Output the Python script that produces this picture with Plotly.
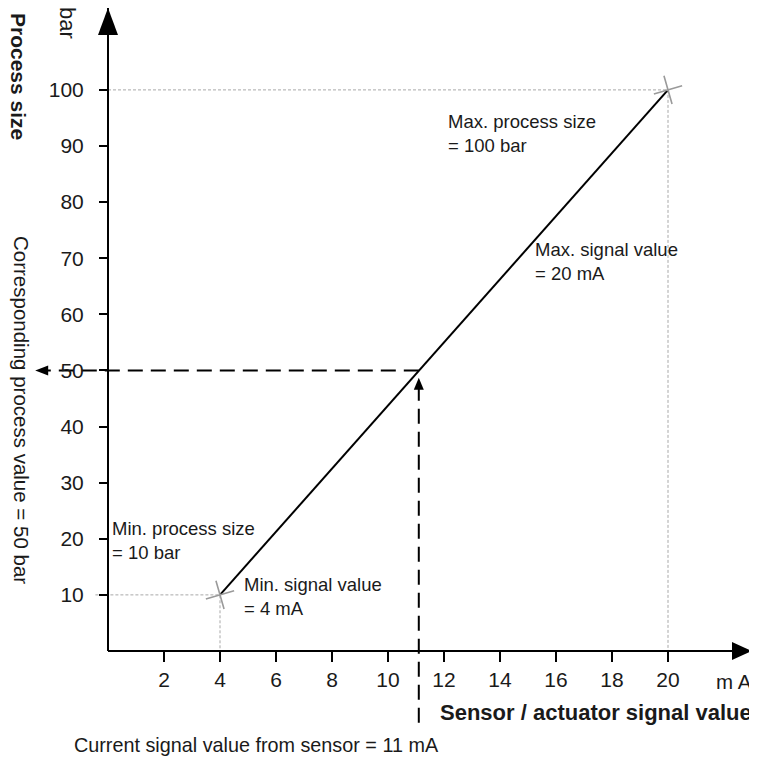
import plotly.graph_objects as go

# ---- data ----
signal_ma = [4, 20]            # min / max signal value (mA)
process_bar = [10, 100]        # min / max process size (bar)
current_signal = 11.1          # current signal from sensor (mA) as drawn
current_process = 50           # corresponding process value (bar)
x_ticks = [2, 4, 6, 8, 10, 12, 14, 16, 18, 20]
y_ticks = [10, 20, 30, 40, 50, 60, 70, 80, 90, 100]
x_axis_end = 23.0
y_axis_end = 114.6
x_arrow_left = -2.6            # tip of the left-pointing arrow at 50 bar
y_arrow_up = 48.7              # tip of the upward arrow at 11 mA
y_dash_bottom = -12.8          # lower end of the vertical dashed line

OFF = 8                        # page body margin of the browser
W, H = 757 - OFF, 760 - OFF
PX_X = 28.0      # px per mA
PX_Y = 5.611     # px per bar
X0_PX, Y0_PX = 108 - OFF, 651 - OFF
xr = [-X0_PX / PX_X, (W - X0_PX) / PX_X]
yr = [(Y0_PX - H) / PX_Y, Y0_PX / PX_Y]

FONT = "Liberation Sans, Arial, sans-serif"
TXT = "#1a1a1a"
GREY = "#a8a8a8"

fig = go.Figure()

# gray dotted guides
fig.add_trace(go.Scatter(x=[0, signal_ma[1], signal_ma[1]], y=[process_bar[1], process_bar[1], 0],
                         mode="lines", line=dict(color=GREY, width=1, dash="3px,2px"),
                         hoverinfo="skip", showlegend=False))
fig.add_trace(go.Scatter(x=[-0.45, signal_ma[0], signal_ma[0]], y=[process_bar[0], process_bar[0], 0],
                         mode="lines", line=dict(color=GREY, width=1, dash="3px,2px"),
                         hoverinfo="skip", showlegend=False))

# axes lines
fig.add_trace(go.Scatter(x=[0, x_axis_end], y=[0, 0], mode="lines",
                         line=dict(color="black", width=2), hoverinfo="skip", showlegend=False))
fig.add_trace(go.Scatter(x=[0, 0], y=[0, y_axis_end], mode="lines",
                         line=dict(color="black", width=2), hoverinfo="skip", showlegend=False))

# characteristic line
fig.add_trace(go.Scatter(x=signal_ma, y=process_bar, mode="lines",
                         line=dict(color="black", width=2), hoverinfo="skip", showlegend=False))

# gray crosses at min/max
fig.add_trace(go.Scatter(x=signal_ma, y=process_bar, mode="markers",
                         marker=dict(symbol="cross-thin", size=21, angle=-16,
                                     line=dict(color="#9a9a9a", width=1.6)),
                         hoverinfo="skip", showlegend=False, cliponaxis=False))

# dashed reading lines
fig.add_trace(go.Scatter(x=[current_signal, x_arrow_left + 0.45], y=[current_process, current_process],
                         mode="lines", line=dict(color="black", width=2, dash="15px,8px"),
                         hoverinfo="skip", showlegend=False))
fig.add_trace(go.Scatter(x=[current_signal, current_signal], y=[y_dash_bottom, y_arrow_up - 2.0],
                         mode="lines", line=dict(color="black", width=2, dash="15px,8px"),
                         hoverinfo="skip", showlegend=False))

# arrowheads as pixel-sized paths
def head(xa, ya, path):
    return dict(type="path", xref="x", yref="y", xsizemode="pixel", ysizemode="pixel",
                xanchor=xa, yanchor=ya, path=path, fillcolor="black",
                line=dict(color="black", width=0), layer="above")

shapes = [
    head(0, y_axis_end, "M -10 -27 L 10 -27 L 0 0 Z"),
    head(x_axis_end, 0, "M -20 -9 L -20 9 L 0 0 Z"),
    head(x_arrow_left, current_process, "M 13 -5 L 13 5 L 0 0 Z"),
    head(current_signal, y_arrow_up, "M -5 -12 L 5 -12 L 0 0 Z"),
]

ann = []
def note(x, y, text, size=18.5, xanchor="left", yanchor="top", bold=False, angle=0, ref="x"):
    t = f"<b>{text}</b>" if bold else text
    d = dict(x=x, y=y, text=t, showarrow=False, xanchor=xanchor, yanchor=yanchor,
             align="left", textangle=angle, font=dict(family=FONT, size=size, color=TXT))
    if ref == "x":
        d.update(xref="x", yref="y")
    else:
        d.update(xref="paper", yref="paper")
    ann.append(d)

# reference-pixel -> coordinates
def px2x(p): return (p - OFF - X0_PX) / PX_X
def px2y(p): return (Y0_PX - (p - OFF)) / PX_Y
def ppx(p): return (p - OFF) / W
def ppy(p): return 1 - (p - OFF) / H

note(px2x(446), px2y(109), "Max. process size<br>= 100 bar")
note(px2x(533), px2y(237), "Max. signal value<br>= 20 mA")
note(px2x(110), px2y(516), "Min. process size<br>= 10 bar")
note(px2x(242), px2y(572), "Min. signal value<br>= 4 mA")

# outside labels
note(ppx(19), ppy(76), "Process size", size=21, xanchor="center", yanchor="middle", bold=True, angle=90, ref="p")
note(ppx(68), ppy(23), "bar", size=22, xanchor="center", yanchor="middle", angle=90, ref="p")
note(ppx(21), ppy(410), "Corresponding process value = 50 bar", size=20.5, xanchor="center",
     yanchor="middle", angle=90, ref="p")
note(ppx(754), ppy(681), "m A", size=20.5, xanchor="right", yanchor="middle", ref="p")
note(ppx(754), ppy(712), "Sensor / actuator signal value", size=22, xanchor="right",
     yanchor="middle", bold=True, ref="p")
note(ppx(72), ppy(745), "Current signal value from sensor = 11 mA", size=19.8, xanchor="left",
     yanchor="middle", ref="p")

fig.update_layout(
    width=W, height=H, margin=dict(l=0, r=0, t=0, b=0),
    paper_bgcolor="white", plot_bgcolor="white",
    shapes=shapes, annotations=ann, showlegend=False,
    xaxis=dict(range=xr, domain=[0, 1], anchor="free", position=1 - Y0_PX / H,
               showgrid=False, zeroline=False, showline=False,
               tickmode="array", tickvals=x_ticks, ticktext=[str(v) for v in x_ticks],
               ticks="outside", ticklen=10, tickwidth=2, tickcolor="black",
               tickfont=dict(family=FONT, size=21, color=TXT), fixedrange=True),
    yaxis=dict(range=yr, domain=[0, 1], anchor="free", position=X0_PX / W,
               showgrid=False, zeroline=False, showline=False,
               tickmode="array", tickvals=y_ticks, ticktext=[str(v) for v in y_ticks],
               ticks="outside", ticklen=9, tickwidth=2, tickcolor="black", ticklabelstandoff=11,
               tickfont=dict(family=FONT, size=21, color=TXT), fixedrange=True),
)

fig.write_html("out.html")
